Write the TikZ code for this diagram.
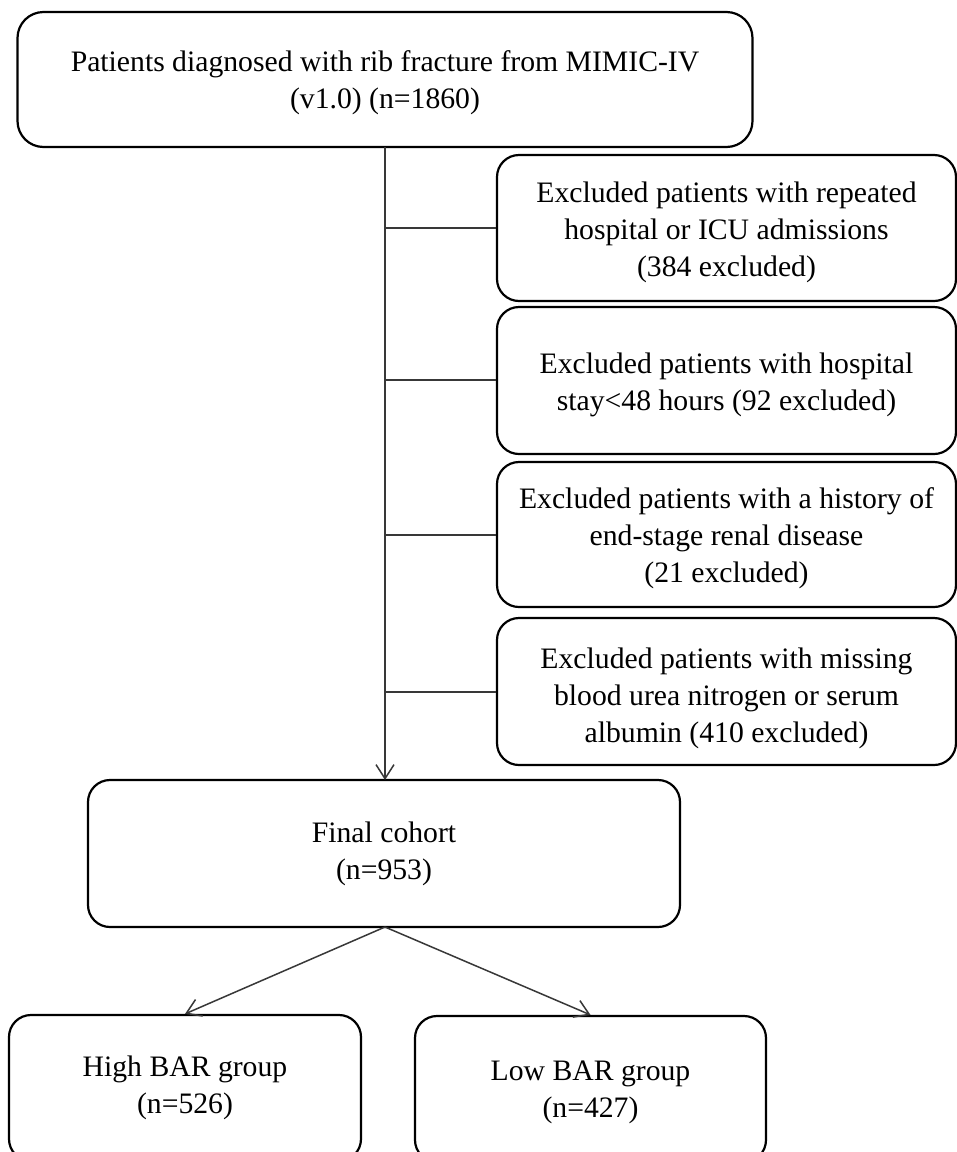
\documentclass[tikz,border=0pt]{standalone}
\usepackage{fontspec}
\setmainfont{Liberation Serif}
\usetikzlibrary{arrows.meta}
\newcommand{\mystrut}[1]{\rule{0pt}{#1pt}}
\begin{document}
\begin{tikzpicture}[x=1pt,y=-1pt,
  box/.style={draw=black,line width=2.2pt,rounded corners=22pt,inner sep=0pt,align=center,
    font=\fontsize{29.7}{37}\selectfont},
  conn/.style={draw=black!78,line width=1.5pt},
  arr/.style={conn,-{Straight Barb[length=14pt,width=18pt,line width=1.5pt]}}]
\useasboundingbox (0,0) rectangle (957,1152);
\clip (0,0) rectangle (957,1152);
\fill[white] (0,0) rectangle (957,1152);
% top box
\node[box,minimum width=735pt,minimum height=135pt,rounded corners=26pt] (top) at (385,79.5)
  {\mystrut{27}Patients diagnosed with rib fracture from MIMIC-IV\\(v1.0) (n=1860)};
% exclusion boxes
\node[box,minimum width=459pt,minimum height=146pt] (ex1) at (726.5,228)
  {\mystrut{29}Excluded patients with repeated\\hospital or ICU admissions\\(384 excluded)};
\node[box,minimum width=459pt,minimum height=147pt] (ex2) at (726.5,380.5)
  {\mystrut{29}Excluded patients with hospital\\stay<48 hours (92 excluded)};
\node[box,minimum width=459pt,minimum height=145pt] (ex3) at (726.5,534.5)
  {\mystrut{29}Excluded patients with a history of\\end-stage renal disease\\(21 excluded)};
\node[box,minimum width=459pt,minimum height=147pt] (ex4) at (726.5,691.5)
  {\mystrut{34}Excluded patients with missing\\blood urea nitrogen or serum\\albumin (410 excluded)};
% final cohort
\node[box,minimum width=592pt,minimum height=147pt] (final) at (384,853.5)
  {Final cohort\\(n=953)};
% groups
\node[box,minimum width=352pt,minimum height=146pt] (high) at (185,1088)
  {High BAR group\\(n=526)};
\node[box,minimum width=351pt,minimum height=146pt] (low) at (590.5,1089)
  {\mystrut{26}Low BAR group\\(n=427)};
% connectors
\coordinate (tb) at (385,147);
\coordinate (fc) at (385,780);
\coordinate (b1) at (385,228);
\coordinate (b2) at (385,380);
\coordinate (b3) at (385,535);
\coordinate (b4) at (385,692);
\draw[arr] (tb) -- (fc);
\draw[conn] (b1) -- (b1 -| ex1.west);
\draw[conn] (b2) -- (b2 -| ex2.west);
\draw[conn] (b3) -- (b3 -| ex3.west);
\draw[conn] (b4) -- (b4 -| ex4.west);
\coordinate (fs) at (385,927);
\draw[arr] (fs) -- (high.north);
\draw[arr] (fs) -- (low.north);
\end{tikzpicture}
\end{document}
